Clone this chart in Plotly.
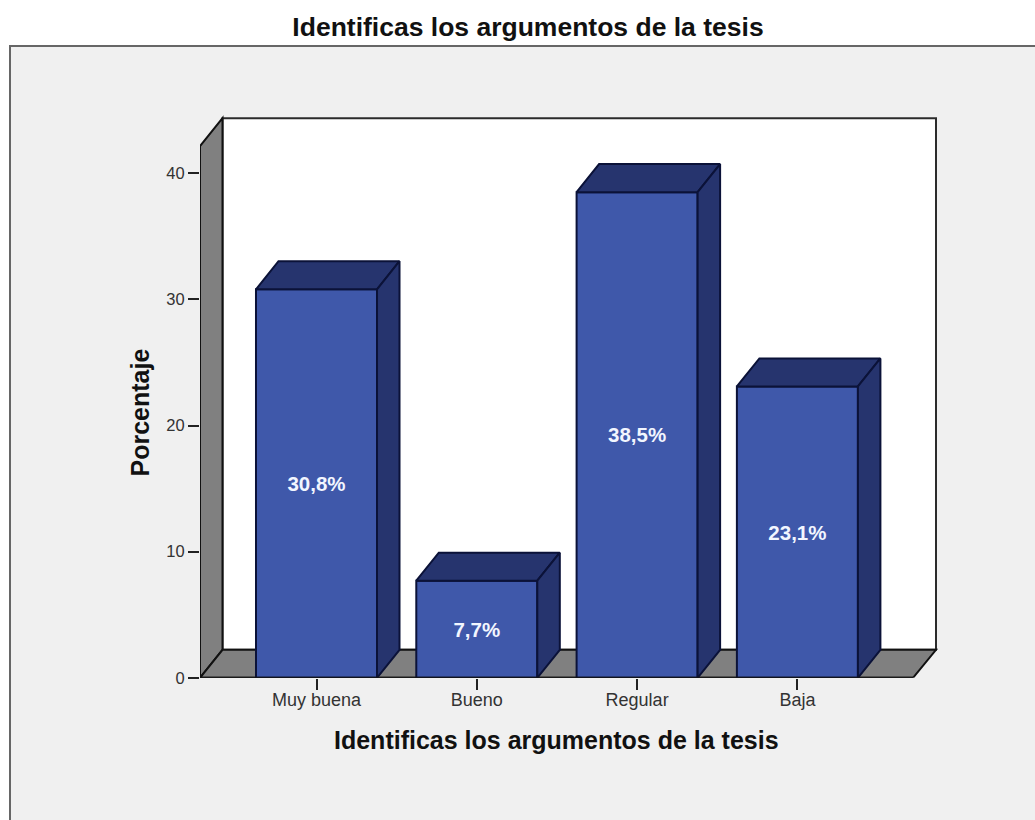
import plotly.graph_objects as go

categories = ["Muy buena", "Bueno", "Regular", "Baja"]
percentages = [30.8, 7.7, 38.5, 23.1]
bar_labels = ["30,8%", "7,7%", "38,5%", "23,1%"]
y_ticks = [0, 10, 20, 30, 40]

W, H = 1035, 820
H_PLOT = 810
PX_CAT = 160.3
PX_UNIT = 12.6
LEFT, RIGHT, TOP, BOTTOM = 200, 936, 118, 677
PAD = 4
X0 = 316.5
wall_x = [(LEFT - X0) / PX_CAT, (RIGHT - X0) / PX_CAT]
wall_y = [0, (BOTTOM - TOP) / PX_UNIT]
x_range = [wall_x[0], (RIGHT + PAD - X0) / PX_CAT]
y_range = [0, (BOTTOM - TOP + PAD) / PX_UNIT]
DX = 22.5 / PX_CAT
DY = 28 / PX_UNIT
BAR_W = 0.755
x_front_right = (913 - X0) / PX_CAT

EDGE = "#0b1238"
FRONT = "#3f58aa"
DARK = "#26346e"
GRAY = "#808080"
WALL_LINE = "#2b2b2b"
FONT = "Liberation Sans"
idx = list(range(len(categories)))

fig = go.Figure()

def poly(xs, ys, fill, line):
    path = "M " + " L ".join(f"{x},{y}" for x, y in zip(xs, ys)) + " Z"
    return dict(type="path", path=path, xref="x", yref="y", fillcolor=fill,
                line=dict(color=line, width=2), layer="below")

shapes = [
    dict(type="rect", xref="paper", yref="paper", x0=10 / W, x1=1.2, y0=-0.2, y1=1 - 46 / H_PLOT,
         fillcolor="#f0f0f0", line=dict(color="#666666", width=2), layer="below"),
    poly([wall_x[0] + DX, wall_x[1], wall_x[1], wall_x[0] + DX],
         [DY, DY, wall_y[1], wall_y[1]], "#ffffff", WALL_LINE),
    poly([wall_x[0], wall_x[0] + DX, wall_x[0] + DX, wall_x[0]],
         [0, DY, wall_y[1], wall_y[1] - DY], GRAY, "#111111"),
    poly([wall_x[0], wall_x[0] + DX, wall_x[1], x_front_right],
         [0, DY, DY, 0], GRAY, "#111111"),
]

fig.add_trace(go.Bar(
    x=idx, y=percentages, width=BAR_W, marker=dict(color=FRONT, line=dict(color=EDGE, width=2)),
    text=bar_labels, textposition="inside", insidetextanchor="middle", textangle=0,
    textfont=dict(family=FONT, size=20.5, color="#f2f6ff", weight="bold"),
    showlegend=False, hoverinfo="skip"))

for i, v in zip(idx, percentages):
    l, r = i - BAR_W / 2, i + BAR_W / 2
    fig.add_trace(go.Scatter(
        x=[l, l + DX, r + DX, r, l], y=[v, v + DY, v + DY, v, v], mode="lines", fill="toself",
        fillcolor=DARK, line=dict(color=EDGE, width=2), showlegend=False, hoverinfo="skip"))
    fig.add_trace(go.Scatter(
        x=[r, r + DX, r + DX, r, r], y=[v, v + DY, DY, 0, v], mode="lines", fill="toself",
        fillcolor=DARK, line=dict(color=EDGE, width=2), showlegend=False, hoverinfo="skip"))

# Front-left and bottom edges of the chart box, unclipped so they keep full thickness
fig.add_trace(go.Scatter(
    x=[x_front_right, wall_x[0], wall_x[0]], y=[0, 0, wall_y[1] - DY], mode="lines", cliponaxis=False,
    line=dict(color="#111111", width=2), showlegend=False, hoverinfo="skip"))

TITLE = "Identificas los argumentos de la tesis"
fig.update_layout(
    width=W, height=H, autosize=False, margin=dict(l=0, r=0, t=0, b=0),
    paper_bgcolor="#ffffff", plot_bgcolor="rgba(0,0,0,0)", showlegend=False, shapes=shapes,
    title=dict(text=TITLE, x=528 / W, xanchor="center", y=1 - 27 / H, yanchor="middle",
               font=dict(family=FONT, size=26.5, color="#111111", weight="bold")),
    xaxis=dict(domain=[LEFT / W, (RIGHT + PAD) / W], range=x_range, tickmode="array", tickvals=idx,
               ticktext=categories, ticks="outside", ticklen=11, tickwidth=2, tickcolor="#222222",
               showgrid=False, zeroline=False, showline=False, ticklabelstandoff=-5,
               tickfont=dict(family=FONT, size=18, color="#333333")),
    yaxis=dict(domain=[1 - BOTTOM / H_PLOT, 1 - (TOP - PAD) / H_PLOT], range=y_range, tickmode="array", tickvals=y_ticks,
               ticks="outside", ticklen=11, tickwidth=2, tickcolor="#222222",
               showgrid=False, zeroline=False, showline=False,
               tickfont=dict(family=FONT, size=16.5, color="#333333")),
    annotations=[
        dict(text=TITLE, xref="paper", yref="paper", x=556 / W, y=1 - 739 / H_PLOT, xanchor="center", yanchor="middle",
             showarrow=False, font=dict(family=FONT, size=25, color="#111111", weight="bold")),
        dict(text="Porcentaje", xref="paper", yref="paper", x=140 / W, y=1 - 412 / H_PLOT, xanchor="center", yanchor="middle",
             textangle=-90, showarrow=False, font=dict(family=FONT, size=25, color="#111111", weight="bold")),
    ],
)
fig.write_html("out.html", config={"displayModeBar": False},
               post_script="document.body.style.margin='0';")
